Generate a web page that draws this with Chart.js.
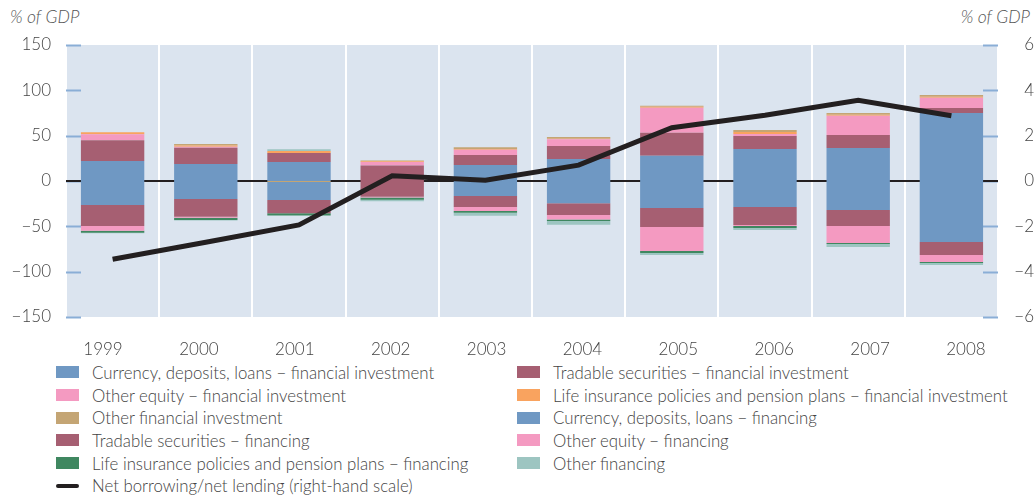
<!DOCTYPE html>
<html>
<head>
<meta charset="utf-8">
<script src="https://cdn.jsdelivr.net/npm/chart.js@4"></script>
<style>
  body { margin: 0; background: #fff; font-family: Lato, sans-serif; font-weight: 300; color: #444; }
  #wrap { position: relative; width: 1034px; height: 497px; }
  #chartBox { position: absolute; left: 0; top: 0; width: 1034px; height: 360px; }
  .unit { position: absolute; top: 6px; font-size: 17.5px; font-style: italic; color: #555; }
  #legend { position: absolute; left: 56px; top: 361px; width: 978px; display: grid; grid-template-columns: 461px 517px; row-gap: 0; }
  .item { display: flex; align-items: center; height: 22.7px; font-size: 16.8px; color: #444; white-space: nowrap; }
  .sw { width: 23px; height: 12px; margin-right: 13px; flex: none; }
  .ln { width: 23px; height: 4px; border-radius: 2px; margin-right: 13px; flex: none; }
</style>
</head>
<body>
<div id="wrap">
  <div class="unit" style="left:10px">% of GDP</div>
  <div class="unit" style="right:4px">% of GDP</div>
  <div id="chartBox"><canvas id="chart"></canvas></div>
  <div id="legend"></div>
</div>
<script>
const years = ['1999', '2000', '2001', '2002', '2003', '2004', '2005', '2006', '2007', '2008'];

// financial investment (positive side)
const currencyInvest = [22, 18.7, 21, 0, 17.6, 24.3, 27.9, 35.3, 36.4, 75];
const tradableInvest = [23, 18, 10, 17, 11, 14.3, 25.4, 14.3, 14.3, 5.5];
const equityInvest = [6.6, 1, 0, 4, 5.8, 7.4, 27.5, 2.2, 21.3, 11.4];
const lifeInvest = [2.2, 1.5, 2, 0.7, 1, 0.7, 1, 2.2, 1.1, 1.1];
const otherInvest = [0, 1.7, -1, 1, 1.7, 1.8, 1.1, 2.2, 1.9, 1.8];

// financing (negative side)
const currencyFinancing = [-26.5, -19.9, -20, 0, -16.5, -24.6, -29.8, -28.7, -32, -67.3];
const tradableFinancing = [-23, -19.5, -14.6, -17.3, -12.2, -12.9, -21, -19.8, -17.6, -14.3];
const equityFinancing = [-5.5, -1, 0, -1, -4.4, -5.1, -26.5, -1.1, -18.8, -7.7];
const lifeFinancing = [-2, -2.5, -2.5, -2.5, -1.9, -1.4, -2.2, -2.2, -1.1, -1.1];
const otherFinancing = [-0.5, -0.7, 2, -1.5, -3.3, -4.2, -2.2, -2.2, -3.3, -2.2];

// right-hand scale
const netLending = [-3.45, -2.7, -1.94, 0.23, 0.03, 0.7, 2.35, 2.9, 3.56, 2.88];

const leftTicks = [150, 100, 50, 0, -50, -100, -150];
const rightTicks = [6, 4, 2, 0, -2, -4, -6];

const BLUE = '#6f98c3', MAUVE = '#a65f72', PINK = '#f49ac1', ORANGE = '#f9a35f',
      TAN = '#c4a574', GREEN = '#3f8760', TEAL = '#9dc5c1';

function bar(label, data, color) {
    return { type: 'bar', label, data, backgroundColor: color, yAxisID: 'y', order: 1,
             categoryPercentage: 1, barPercentage: 0.68 };
}

const datasets = [
    bar('Currency, deposits, loans \u2212 financial investment', currencyInvest, BLUE),
    bar('Tradable securities \u2212 financial investment', tradableInvest, MAUVE),
    bar('Other equity \u2212 financial investment', equityInvest, PINK),
    bar('Life insurance policies and pension plans \u2212 financial investment', lifeInvest, ORANGE),
    bar('Other financial investment', otherInvest, TAN),
    bar('Currency, deposits, loans \u2212 financing', currencyFinancing, BLUE),
    bar('Tradable securities \u2212 financing', tradableFinancing, MAUVE),
    bar('Other equity \u2212 financing', equityFinancing, PINK),
    bar('Life insurance policies and pension plans \u2212 financing', lifeFinancing, GREEN),
    bar('Other financing', otherFinancing, TEAL),
    { type: 'line', label: 'Net borrowing/net lending (right-hand scale)', data: netLending,
      yAxisID: 'y1', order: 0, borderColor: '#231f20', borderWidth: 5, pointRadius: 0,
      tension: 0, borderJoinStyle: 'miter' }
];

const fmt = v => String(v).replace('-', '\u2212');

// plot background, inner tick marks and the zero line
const decor = {
    id: 'decor',
    beforeDraw(chart) {
        const { ctx, chartArea: a } = chart;
        ctx.save();
        ctx.fillStyle = '#dbe4ef';
        ctx.fillRect(a.left, a.top, a.right - a.left, a.bottom - a.top);
        ctx.restore();
    },
    beforeDatasetsDraw(chart) {
        const { ctx, chartArea: a } = chart;
        ctx.save();
        ctx.strokeStyle = '#8aaed6';
        ctx.lineWidth = 2;
        chart.scales.y.ticks.forEach((t, i) => {
            const py = Math.round(chart.scales.y.getPixelForTick(i)) + 0.5;
            ctx.beginPath(); ctx.moveTo(a.left, py); ctx.lineTo(a.left + 15, py); ctx.stroke();
        });
        chart.scales.y1.ticks.forEach((t, i) => {
            const py = Math.round(chart.scales.y1.getPixelForTick(i)) + 0.5;
            ctx.beginPath(); ctx.moveTo(a.right - 15, py); ctx.lineTo(a.right, py); ctx.stroke();
        });
        const z = chart.scales.y.getPixelForValue(0);
        ctx.strokeStyle = '#231f20';
        ctx.lineWidth = 2;
        ctx.beginPath(); ctx.moveTo(a.left, z); ctx.lineTo(a.right, z); ctx.stroke();
        ctx.restore();
    }
};

const tickFont = { family: 'Lato', size: 17, weight: '300' };

new Chart(document.getElementById('chart'), {
    data: { labels: years, datasets },
    plugins: [decor],
    options: {
        responsive: true,
        maintainAspectRatio: false,
        animation: false,
        layout: { padding: { top: 45, left: 0, right: 0, bottom: 0 } },
        plugins: { legend: { display: false }, tooltip: { enabled: false } },
        scales: {
            x: {
                stacked: true,
                offset: true,
                grid: { color: '#ffffff', lineWidth: 2, offset: true, drawTicks: false },
                border: { display: false },
                ticks: { display: false },
                afterFit: s => { s.height = 0; }
            },
            // year labels sit slightly wider apart than the bars in the original
            xLabels: {
                type: 'linear',
                position: 'bottom',
                min: -0.386, max: 9.334,
                afterBuildTicks: s => { s.ticks = years.map((_, i) => ({ value: i })); },
                grid: { display: false },
                border: { display: false },
                ticks: { color: '#444', font: tickFont, padding: 14, callback: v => years[v] },
                afterFit: s => { s.height = 43; }
            },
            y: {
                stacked: true,
                position: 'left',
                min: -150, max: 150,
                afterBuildTicks: s => { s.ticks = leftTicks.map(v => ({ value: v })); },
                grid: { display: false },
                border: { display: false },
                ticks: { color: '#444', font: tickFont, padding: 7, callback: v => fmt(v) },
                afterFit: s => { s.width = 66; }
            },
            y1: {
                position: 'right',
                min: -6, max: 6,
                afterBuildTicks: s => { s.ticks = rightTicks.map(v => ({ value: v })); },
                grid: { display: false },
                border: { display: false },
                ticks: { color: '#444', font: tickFont, padding: 0, crossAlign: 'far', callback: v => fmt(v) },
                afterFit: s => { s.width = 36; }
            }
        }
    }
});

// two-column legend, row by row in dataset order
const legend = document.getElementById('legend');
datasets.forEach(d => {
    const item = document.createElement('div');
    item.className = 'item';
    const mark = document.createElement('span');
    if (d.type === 'line') {
        mark.className = 'ln';
        mark.style.background = d.borderColor;
    } else {
        mark.className = 'sw';
        mark.style.background = d.backgroundColor;
    }
    item.appendChild(mark);
    item.appendChild(document.createTextNode(d.label));
    legend.appendChild(item);
});
</script>
</body>
</html>
